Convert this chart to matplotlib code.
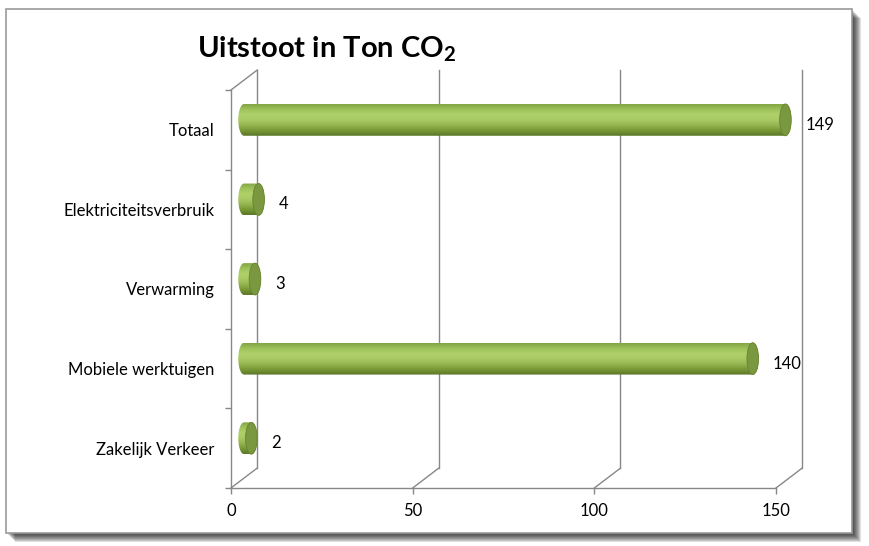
import numpy as np
import matplotlib
matplotlib.use("Agg")
import matplotlib.pyplot as plt
from matplotlib.patches import Rectangle, Polygon, Ellipse
from matplotlib.colors import LinearSegmentedColormap

plt.rcParams["font.family"] = ["Lato", "DejaVu Sans"]
plt.rcParams["mathtext.fontset"] = "custom"
plt.rcParams["mathtext.rm"] = "Lato"
plt.rcParams["mathtext.bf"] = "Lato:bold"

# data (bottom to top)
categories = ["Zakelijk Verkeer", "Mobiele werktuigen", "Verwarming",
              "Elektriciteitsverbruik", "Totaal"]
values = [2, 140, 3, 4, 149]
x_ticks = [0, 50, 100, 150]

W, H = 870, 546
grid_col = "#878787"
depth_x = 7.2     # depth of the 3D box in value units
depth_y = 0.25    # depth of the 3D box in category units
bar_h = 0.40
cap_rx = 1.6

body_cmap = LinearSegmentedColormap.from_list(
    "cyl", ["#82A443", "#9EC25B", "#B0D16A", "#A8C963", "#93B44F", "#779735", "#5A7628"])

fig = plt.figure(figsize=(W / 100, H / 100), dpi=100)

# frame with drop shadow
for k in range(1, 10):
    fig.add_artist(Rectangle((6 / W + k / W, (13 - k) / H), 846 / W, 524 / H,
                             transform=fig.transFigure, facecolor="black",
                             edgecolor="none", alpha=0.12, zorder=0))
fig.add_artist(Rectangle((6 / W, 13 / H), 846 / W, 524 / H, transform=fig.transFigure,
                         facecolor="white", edgecolor="#9A9A9A", linewidth=1.2, zorder=1))

ax = fig.add_axes([231 / W, 58 / H, 545 / W, 398 / H])
ax.set_zorder(2)
ax.patch.set_visible(False)

y_pos = np.arange(len(categories))

# spines / ticks
for s in ["top", "right"]:
    ax.spines[s].set_visible(False)
for s in ["left", "bottom"]:
    ax.spines[s].set_color(grid_col)
    ax.spines[s].set_linewidth(1)

ax.set_xticks(x_ticks)
ax.set_xticklabels([str(t) for t in x_ticks], fontsize=12)
ax.set_yticks(y_pos)
ax.set_yticklabels(categories, fontsize=12)
ax.set_yticks(np.arange(len(categories) + 1) - 0.5, minor=True)
ax.tick_params(axis="y", which="major", length=0, pad=12)
ax.tick_params(axis="y", which="minor", length=4.5, color=grid_col, width=1)
ax.tick_params(axis="x", length=4, color=grid_col, width=1, pad=7)

y_lo, y_hi = -0.5, len(categories) - 0.5

# back wall gridlines and floor edges
for t in x_ticks:
    ax.plot([t + depth_x, t + depth_x], [y_lo + depth_y, y_hi + depth_y],
            color=grid_col, lw=1, clip_on=False, zorder=1)
    ax.plot([t, t + depth_x], [y_lo, y_lo + depth_y],
            color=grid_col, lw=1, clip_on=False, zorder=1)
ax.plot([0, depth_x], [y_hi, y_hi + depth_y], color=grid_col, lw=1, clip_on=False, zorder=1)

# cylinder bars
theta_l = np.linspace(np.pi / 2, 3 * np.pi / 2, 40)
theta_r = np.linspace(-np.pi / 2, np.pi / 2, 40)
grad = np.linspace(0, 1, 200).reshape(-1, 1)
for yi, v in zip(y_pos, values):
    yc = yi + depth_y / 2
    x0 = depth_x / 2
    x1 = v + depth_x / 2
    hy = bar_h / 2
    pts = np.vstack([
        np.column_stack([x0 + cap_rx * np.cos(theta_l), yc + hy * np.sin(theta_l)]),
        np.column_stack([x1 + cap_rx * np.cos(theta_r), yc + hy * np.sin(theta_r)]),
    ])
    shape = Polygon(pts, closed=True, facecolor="none", edgecolor="none",
                    transform=ax.transData, clip_on=False)
    ax.add_patch(shape)
    im = ax.imshow(grad, cmap=body_cmap, aspect="auto", origin="upper",
                   extent=[x0 - cap_rx, x1 + cap_rx, yc - hy, yc + hy],
                   zorder=3, interpolation="bilinear")
    im.set_clip_box(fig.bbox)
    im.set_clip_path(shape)
    ax.add_patch(Ellipse((x1, yc), 2 * cap_rx, bar_h, facecolor="#7A9840",
                         edgecolor="#67832F", lw=0.6, zorder=4, clip_on=False))
    ax.annotate(str(v), xy=(x1 + cap_rx, yc), xytext=(14, -5),
                textcoords="offset pixels", ha="left", va="center", fontsize=12,
                zorder=5, annotation_clip=False)

ax.set_xlim(0, 150)
ax.set_ylim(y_lo, y_hi)

fig.text(197 / W, 1 - 57 / H, r"Uitstoot in Ton CO$_{\mathbf{2}}$", fontsize=21,
         fontweight="bold", ha="left", va="baseline", zorder=5)

fig.savefig("out.png", dpi=100)
